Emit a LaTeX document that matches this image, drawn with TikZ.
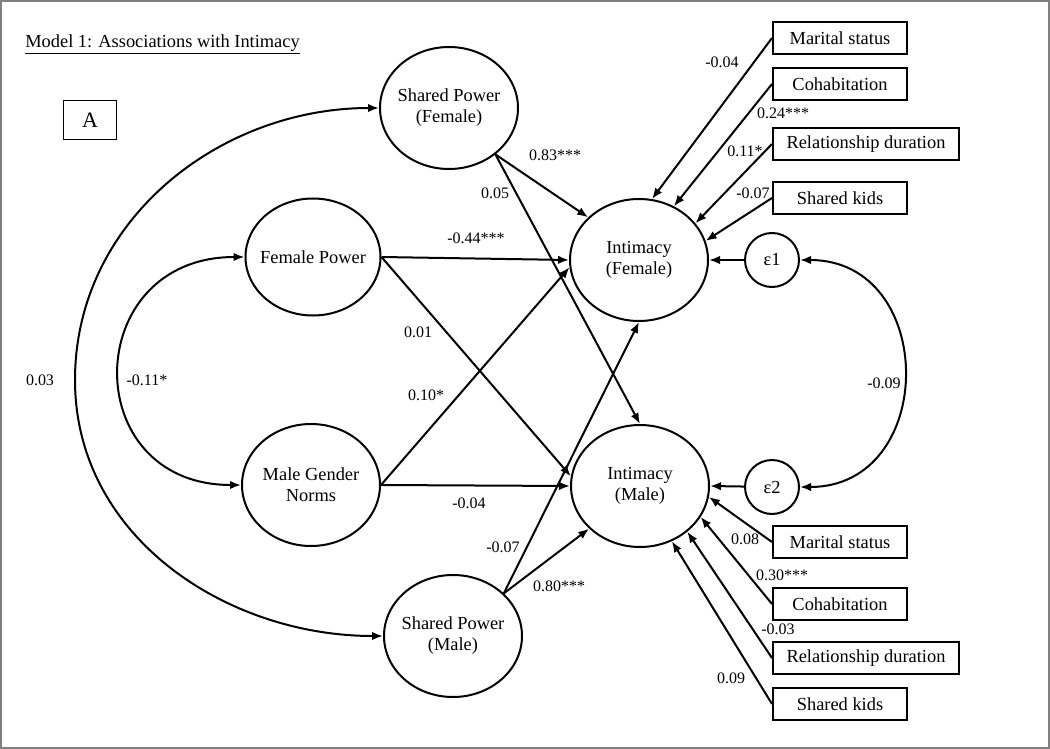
\documentclass[tikz,border=0pt]{standalone}
\usepackage{fontspec}
\setmainfont{Liberation Serif}
\usetikzlibrary{arrows.meta, shapes.geometric}

\begin{document}
\begin{tikzpicture}[x=1pt, y=-1pt, >={Latex[length=11pt,width=8.5pt]}, line width=2pt]
  \tikzset{
   latent/.style={draw, ellipse, minimum width=138pt, minimum height=122pt,
    inner xsep=-15pt, inner ysep=0pt, align=center, font=\fontsize{18.4}{21}\selectfont},
   resid/.style={draw, circle, minimum size=54pt, inner sep=0pt, font=\fontsize{18.4}{21}\selectfont},
   covar/.style={draw, rectangle, anchor=west, minimum height=32pt, inner sep=2pt,
    font=\fontsize{18.4}{21}\selectfont},
   coef/.style={font=\fontsize{16}{18}\selectfont, inner sep=1pt},
  }
  \useasboundingbox (0,0) rectangle (1050,749);
  \draw [gray, line width=2pt] (1,1) rectangle (1049,748);

  % title and panel letter
  \node [anchor=west, font=\fontsize{18.4}{21}\selectfont] (title) at (21,44)
   {\underline{Model 1: Associations with Intimacy}};
  \node [draw, line width=1.2pt, minimum width=53pt, minimum height=39pt,
   font=\fontsize{22}{24}\selectfont] (panel) at (90,120) {A};

  % latent variables
  \node [latent] (spf) at (449,108) {Shared Power\\(Female)};
  \node [latent, minimum width=135pt, minimum height=117pt] (fp) at (313,257) {Female Power};
  \node [latent] (mgn) at (311,485) {Male Gender\\Norms};
  \node [latent] (spm) at (453,636) {Shared Power\\(Male)};
  \node [latent] (intf) at (639,260) {Intimacy\\(Female)};
  \node [latent] (intm) at (640,486) {Intimacy\\(Male)};
  \node [resid] (e1) at (772,260) {ε1};
  \node [resid] (e2) at (772,487) {ε2};

  % control variables
  \foreach \nm/\y/\w/\txt in {
   msf/38/134/Marital status,
   cohf/84/134/Cohabitation,
   durf/144/186/Relationship duration,
   kidsf/198/134/Shared kids,
   msm/542/134/Marital status,
   cohm/604/134/Cohabitation,
   durm/658/186/Relationship duration,
   kidsm/704/134/Shared kids
  } {
   \node [covar, minimum width=\w pt] (\nm) at (772,\y) {\txt};
  }

  % paths from controls
  \foreach \nm/\to/\ang/\val/\lx/\ly in {
   msf/intf/78/-0.04/722/62,
   cohf/intf/57/0.24***/783/113,
   durf/intf/33/0.11*/745/151,
   kidsf/intf/16/-0.07/753/193,
   msm/intm/-9/0.08/745/539,
   cohm/intm/-27/0.30***/782/575,
   durm/intm/-44/-0.03/778/629,
   kidsm/intm/-60/0.09/731/678
  } {
   \draw [->] (\nm.west) -- (\to.\ang);
   \node [coef] (c\nm) at (\lx,\ly) {\val};
  }

  % structural paths
  \draw [->] (spf.-45) -- (intf.140);
  \draw [->] (spf.-45) -- (intm.north);
  \draw [->] (fp.east) -- (intf.west);
  \draw [->] (fp.east) -- (intm.172);
  \draw [->] (mgn.east) -- (intf.186);
  \draw [->] (mgn.east) -- (intm.west);
  \draw [->] (spm.40) -- (intf.south);
  \draw [->] (spm.40) -- (intm.220);
  \draw [->] (e1) -- (intf.east);
  \draw [->] (e2) -- (intm.east);

  \node [coef] (c1) at (555,155) {0.83***};
  \node [coef] (c2) at (495,193) {0.05};
  \node [coef] (c3) at (476,238) {-0.44***};
  \node [coef] (c4) at (418,332) {0.01};
  \node [coef] (c5) at (426,395) {0.10*};
  \node [coef] (c6) at (469,503) {-0.04};
  \node [coef] (c7) at (503,547) {-0.07};
  \node [coef] (c8) at (559,586) {0.80***};

  % covariances
  \coordinate (far) at (75,380);
  \draw [<->] (spf.west) to [out=180, in=90] (far) to [out=-90, in=180] (spm.west);
  \draw [<->] (fp.west) to [out=180, in=180, looseness=1.84] (mgn.west);
  \draw [<->] (e1.east) to [out=0, in=0, looseness=1.56] (e2.east);
  \node [coef] (c9) at (40,380) {0.03};
  \node [coef] (c10) at (147,380) {-0.11*};
  \node [coef] (c11) at (884,383) {-0.09};
\end{tikzpicture}
\end{document}
